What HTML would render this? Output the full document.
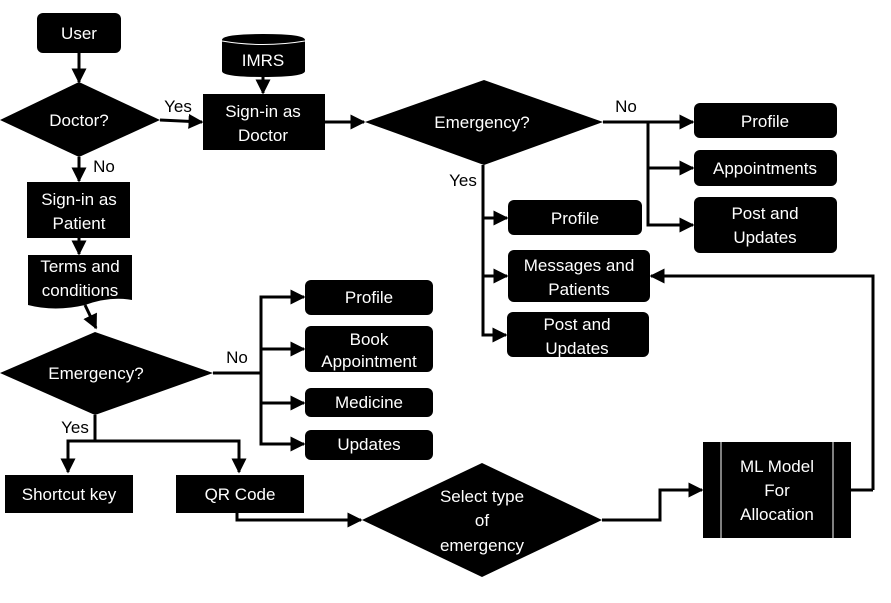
<!DOCTYPE html>
<html><head><meta charset="utf-8"><style>
html,body{margin:0;padding:0;background:#fff;}
svg{display:block;}
text{font-family:"Liberation Sans",sans-serif;font-size:17px;fill:#fff;text-anchor:middle;}
.k{fill:#000;}
</style></head><body>
<svg width="891" height="603" viewBox="0 0 891 603" xmlns="http://www.w3.org/2000/svg">
<defs><marker id="a" viewBox="0 0 10 10" refX="9" refY="5" markerWidth="5" markerHeight="5" orient="auto"><path d="M0,0L10,5L0,10z" fill="#000"/></marker></defs>
<g stroke="#000" stroke-width="3" fill="none" marker-end="url(#a)">
<path d="M79,53V82"/>
<path d="M263,77V93"/>
<path d="M160,120L202,122"/>
<path d="M79,157V181"/>
<path d="M79,238V254"/>
<path d="M325,122H364"/>
<path d="M603,122H693"/>
<path d="M648,122V168H693"/>
<path d="M648,168V225H693"/>
<path d="M483,165V218H507"/>
<path d="M483,218V276H507"/>
<path d="M483,276V335H506"/>
<path d="M873,490V276H651"/>
<path d="M85,305L96,328"/>
<path d="M213,373H261V297H304"/>
<path d="M261,373V349H304"/>
<path d="M261,373V403H304"/>
<path d="M261,403V444H304"/>
<path d="M95,415V441H68V472"/>
<path d="M95,441H239V472"/>
<path d="M237,513V520H361"/>
<path d="M602,520H660V490H702"/>
</g>
<path d="M851,490H873" stroke="#000" stroke-width="3"/>
<rect x="37" y="13" width="84" height="40" rx="6" class="k"/>
<text x="79" y="39">User</text>
<path d="M0,120L79,82L160,120L79,157Z" class="k"/>
<text x="79" y="126">Doctor?</text>
<path d="M222,40Q222,34 263,34Q305,34 305,40V71Q305,77 263,77Q222,77 222,71Z" class="k"/>
<path d="M222,41Q263,48 305,41" stroke="#fff" stroke-width="1" fill="none"/>
<text x="263" y="66">IMRS</text>
<rect x="203" y="94" width="122" height="56" class="k"/>
<text x="263" y="117">Sign-in as</text><text x="263" y="141">Doctor</text>
<text x="178" y="112" class="k">Yes</text>
<text x="104" y="172" class="k">No</text>
<path d="M365,122L484,80L603,122L484,165Z" class="k"/>
<text x="482" y="128">Emergency?</text>
<text x="626" y="112" class="k">No</text>
<text x="463" y="186" class="k">Yes</text>
<rect x="694" y="103" width="143" height="35" rx="6" class="k"/><text x="765" y="127">Profile</text>
<rect x="694" y="150" width="143" height="36" rx="6" class="k"/><text x="765" y="174">Appointments</text>
<rect x="694" y="197" width="143" height="56" rx="6" class="k"/><text x="765" y="219">Post and</text><text x="765" y="243">Updates</text>
<rect x="508" y="200" width="134" height="35" rx="6" class="k"/><text x="575" y="224">Profile</text>
<rect x="508" y="250" width="142" height="52" rx="6" class="k"/><text x="579" y="271">Messages and</text><text x="579" y="295">Patients</text>
<rect x="507" y="312" width="142" height="45" rx="6" class="k"/><text x="577" y="330">Post and</text><text x="577" y="354">Updates</text>
<rect x="27" y="182" width="103" height="56" class="k"/>
<text x="79" y="205">Sign-in as</text><text x="79" y="229">Patient</text>
<path d="M28,255H132V300Q110,296 85,305Q55,312 28,305Z" class="k"/>
<text x="80" y="272">Terms and</text><text x="80" y="296">conditions</text>
<path d="M0,373L95,332L213,373L95,415Z" class="k"/>
<text x="96" y="379">Emergency?</text>
<text x="237" y="363" class="k">No</text>
<text x="75" y="433" class="k">Yes</text>
<rect x="305" y="280" width="128" height="35" rx="6" class="k"/><text x="369" y="303">Profile</text>
<rect x="305" y="326" width="128" height="46" rx="6" class="k"/><text x="369" y="345">Book</text><text x="369" y="367">Appointment</text>
<rect x="305" y="388" width="128" height="29" rx="6" class="k"/><text x="369" y="408">Medicine</text>
<rect x="305" y="430" width="128" height="30" rx="6" class="k"/><text x="369" y="450">Updates</text>
<rect x="5" y="475" width="128" height="38" class="k"/><text x="69" y="500">Shortcut key</text>
<rect x="176" y="475" width="128" height="38" class="k"/><text x="240" y="500">QR Code</text>
<path d="M362,520L482,463L602,520L482,577Z" class="k"/>
<text x="482" y="502">Select type</text><text x="482" y="526">of</text><text x="482" y="551">emergency</text>
<rect x="703" y="442" width="148" height="96" class="k"/>
<path d="M721,442V538M833,442V538" stroke="#fff" stroke-width="1"/>
<text x="777" y="472">ML Model</text><text x="777" y="496">For</text><text x="777" y="520">Allocation</text>
</svg>
</body></html>
